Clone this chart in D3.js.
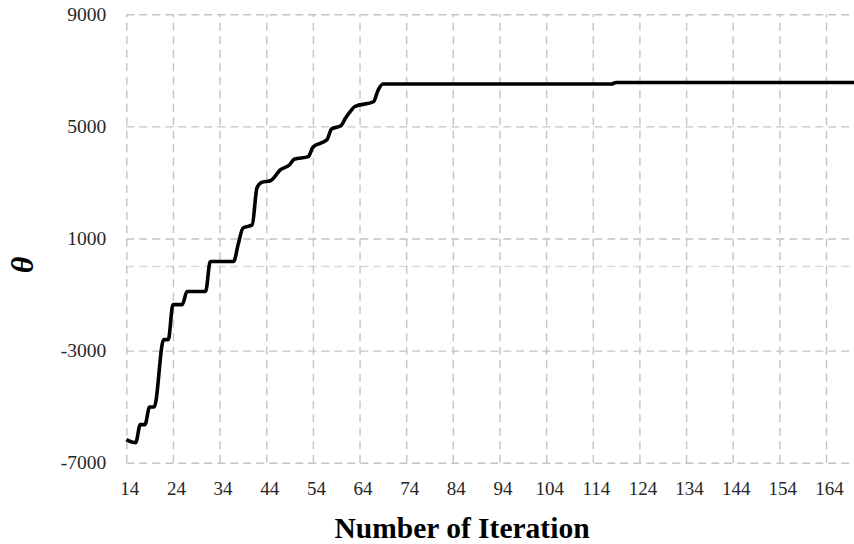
<!DOCTYPE html>
<html>
<head>
<meta charset="utf-8">
<script src="https://cdn.jsdelivr.net/npm/d3@7"></script>
<style>
  body { margin: 0; background: #fff; }
  svg { display: block; }
  text { font-family: "Liberation Serif", "Times New Roman", serif; }
</style>
</head>
<body>
<svg class="chart"></svg>
<script>
// breakpoints of the theta curve (iteration, theta)
var iterations = [14, 16, 17, 18, 19, 20, 22, 23, 24, 26, 27, 31, 32, 37, 38, 39, 41, 42, 43, 45,
  47, 49, 50, 53, 54, 57, 58, 60, 61, 62, 63, 67, 68, 69, 118, 119, 170];
var thetaValues = [-6180, -6290, -5640, -5640, -5010, -5010, -2610, -2610, -1360, -1360, -890, -890,
  180, 180, 800, 1370, 1490, 2800, 3000, 3070, 3450, 3630, 3830, 3920, 4260, 4520, 4910, 5020,
  5300, 5530, 5710, 5880, 6300, 6515, 6515, 6565, 6565];

var xTicks = [14, 24, 34, 44, 54, 64, 74, 84, 94, 104, 114, 124, 134, 144, 154, 164];
var yTicks = [-7000, -3000, 1000, 5000, 9000];

var width = 854, height = 544;
var plotL = 126.3, plotR = 854, plotT = 14.3, plotB = 462.7;

var chart = d3.select('.chart').attr('width', width).attr('height', height);

var x = d3.scaleLinear().domain([14, 170]).range([plotL, plotR]);
var y = d3.scaleLinear().domain([-7000, 9000]).range([plotB, plotT]);

// horizontal gridlines + labels (plain hyphen for negatives, like the original)
var yAxis = chart.append('g')
  .attr('transform', 'translate(' + plotL + ',0)')
  .call(d3.axisLeft(y).tickValues(yTicks).tickSize(-(plotR - plotL)).tickPadding(20).tickFormat(d => String(d)));
yAxis.select('.domain').remove();
yAxis.selectAll('line').attr('stroke', '#c4c4c4').attr('stroke-width', 1.4).attr('stroke-dasharray', '8,5');
yAxis.selectAll('text').attr('font-size', 19.5).attr('fill', '#262626').attr('x', -20);

// zero line (horizontal axis)
chart.append('line')
  .attr('x1', plotL).attr('x2', plotR)
  .attr('y1', y(0)).attr('y2', y(0))
  .attr('stroke', '#d9d9d9').attr('stroke-width', 1.4).attr('stroke-dasharray', '8,5');

// vertical gridlines + labels
var xAxis = chart.append('g')
  .attr('transform', 'translate(0,' + plotB + ')')
  .call(d3.axisBottom(x).tickValues(xTicks).tickSize(-(plotB - plotT)).tickPadding(0));
xAxis.select('.domain').remove();
xAxis.selectAll('line').attr('stroke', '#c4c4c4').attr('stroke-width', 1.4).attr('stroke-dasharray', '8,5.5');
xAxis.selectAll('text')
  .attr('font-size', 19).attr('fill', '#262626')
  .attr('dy', null).attr('x', 3).attr('y', 32);

// the curve
var points = iterations.map((it, i) => ({ it: it, v: thetaValues[i] }));
var line = d3.line().x(d => x(d.it)).y(d => y(d.v)).curve(d3.curveMonotoneX);

chart.append('path')
  .datum(points)
  .attr('d', line)
  .attr('fill', 'none')
  .attr('stroke', '#000')
  .attr('stroke-width', 3.6)
  .attr('stroke-linejoin', 'round');

// axis titles
chart.append('text')
  .attr('x', 462).attr('y', 538)
  .attr('text-anchor', 'middle')
  .attr('font-size', 29.5).attr('font-weight', 'bold')
  .text('Number of Iteration');

chart.append('text')
  .attr('transform', 'translate(33,265) rotate(-90)')
  .attr('text-anchor', 'middle')
  .attr('font-size', 32).attr('font-weight', 'bold').attr('font-style', 'italic')
  .text('θ');
</script>
</body>
</html>
